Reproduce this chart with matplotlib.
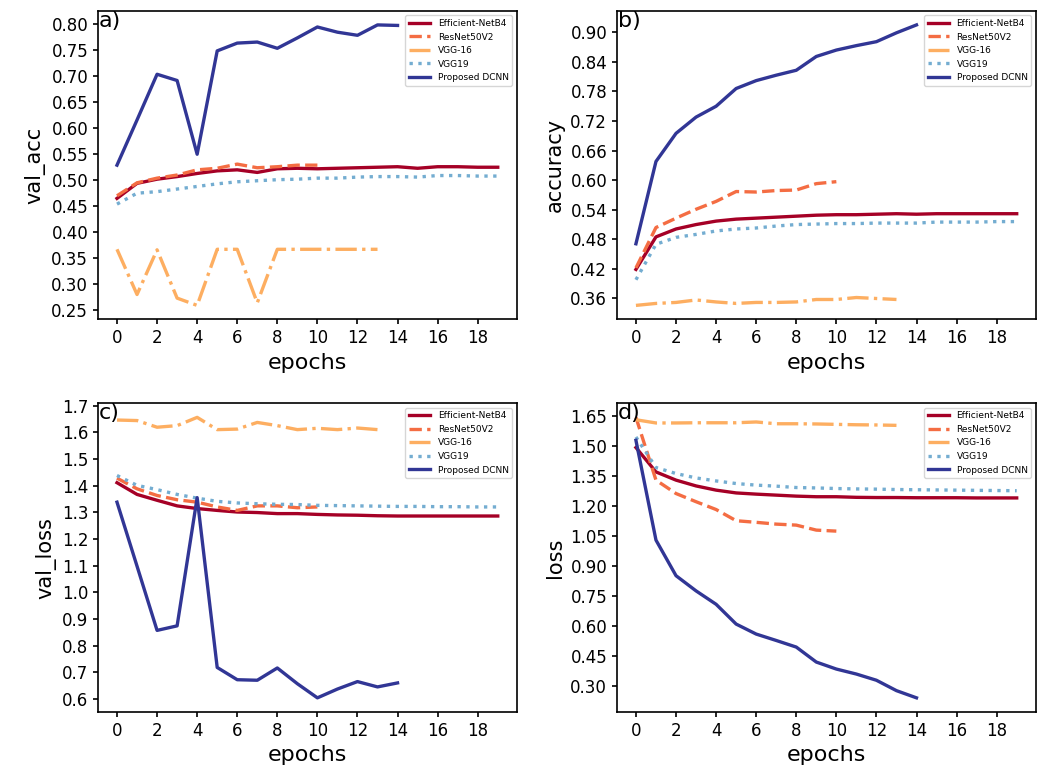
import matplotlib.pyplot as plt
import numpy as np

# model names and styles (RdYlBu colours)
models = ["Efficient-NetB4", "ResNet50V2", "VGG-16", "VGG19", "Proposed DCNN"]
colors = ["#a50026", "#f46d43", "#fdae61", "#74add1", "#313695"]
styles = ["-", "--", "-.", ":", "-"]

# a) validation accuracy
val_acc = [
    [0.464, 0.493, 0.501, 0.506, 0.512, 0.517, 0.519, 0.514, 0.521, 0.522,
     0.521, 0.522, 0.523, 0.524, 0.525, 0.522, 0.525, 0.525, 0.524, 0.524],
    [0.469, 0.494, 0.503, 0.509, 0.519, 0.522, 0.530, 0.523, 0.525, 0.528, 0.528],
    [0.366, 0.279, 0.365, 0.272, 0.258, 0.366, 0.366, 0.263, 0.366, 0.366,
     0.366, 0.366, 0.366, 0.366],
    [0.453, 0.474, 0.477, 0.482, 0.487, 0.492, 0.496, 0.498, 0.500, 0.501,
     0.503, 0.503, 0.505, 0.506, 0.506, 0.505, 0.508, 0.508, 0.507, 0.507],
    [0.528, 0.615, 0.703, 0.691, 0.549, 0.748, 0.763, 0.765, 0.753, 0.773,
     0.794, 0.784, 0.778, 0.798, 0.797],
]

# b) training accuracy
accuracy = [
    [0.419, 0.485, 0.501, 0.510, 0.517, 0.521, 0.523, 0.525, 0.527, 0.529,
     0.530, 0.530, 0.531, 0.532, 0.531, 0.532, 0.532, 0.532, 0.532, 0.532],
    [0.422, 0.504, 0.523, 0.541, 0.557, 0.577, 0.576, 0.579, 0.580, 0.593, 0.597],
    [0.346, 0.350, 0.352, 0.357, 0.353, 0.350, 0.352, 0.352, 0.353, 0.358,
     0.358, 0.362, 0.360, 0.358],
    [0.398, 0.470, 0.484, 0.490, 0.497, 0.501, 0.503, 0.507, 0.510, 0.511,
     0.512, 0.512, 0.513, 0.513, 0.513, 0.515, 0.515, 0.515, 0.516, 0.516],
    [0.471, 0.638, 0.695, 0.728, 0.750, 0.786, 0.802, 0.813, 0.823, 0.851,
     0.864, 0.873, 0.881, 0.899, 0.915],
]

# c) validation loss
val_loss = [
    [1.411, 1.367, 1.345, 1.324, 1.314, 1.307, 1.301, 1.299, 1.295, 1.295,
     1.292, 1.290, 1.289, 1.287, 1.286, 1.286, 1.286, 1.286, 1.286, 1.286],
    [1.428, 1.388, 1.363, 1.347, 1.338, 1.320, 1.307, 1.324, 1.324, 1.317, 1.320],
    [1.646, 1.644, 1.619, 1.625, 1.656, 1.610, 1.612, 1.637, 1.625, 1.610,
     1.615, 1.610, 1.616, 1.610],
    [1.438, 1.401, 1.385, 1.367, 1.353, 1.341, 1.335, 1.332, 1.330, 1.329,
     1.326, 1.325, 1.324, 1.323, 1.322, 1.322, 1.321, 1.321, 1.320, 1.320],
    [1.338, 1.098, 0.857, 0.874, 1.355, 0.718, 0.672, 0.670, 0.716, 0.657,
     0.604, 0.637, 0.665, 0.645, 0.660],
]

# d) training loss
loss = [
    [1.494, 1.372, 1.331, 1.302, 1.281, 1.267, 1.261, 1.256, 1.251, 1.248,
     1.248, 1.245, 1.244, 1.244, 1.243, 1.243, 1.243, 1.242, 1.242, 1.242],
    [1.645, 1.331, 1.264, 1.223, 1.184, 1.128, 1.120, 1.111, 1.106, 1.081, 1.076],
    [1.633, 1.617, 1.617, 1.618, 1.618, 1.618, 1.622, 1.613, 1.613, 1.612,
     1.610, 1.608, 1.607, 1.605],
    [1.547, 1.394, 1.364, 1.342, 1.327, 1.314, 1.306, 1.301, 1.294, 1.292,
     1.289, 1.287, 1.286, 1.284, 1.283, 1.282, 1.281, 1.280, 1.279, 1.278],
    [1.530, 1.031, 0.853, 0.777, 0.710, 0.611, 0.561, 0.529, 0.496, 0.421,
     0.386, 0.361, 0.330, 0.278, 0.242],
]

panels = [("a)", "val_acc", val_acc, np.arange(0.25, 0.801, 0.05), "%.2f"),
          ("b)", "accuracy", accuracy, np.arange(0.36, 0.901, 0.06), "%.2f"),
          ("c)", "val_loss", val_loss, np.arange(0.6, 1.701, 0.1), "%.1f"),
          ("d)", "loss", loss, np.arange(0.30, 1.651, 0.15), "%.2f")]

plt.rcParams['axes.linewidth'] = 1.2
plt.rcParams['xtick.major.width'] = 1.2
plt.rcParams['ytick.major.width'] = 1.2

fig, axes = plt.subplots(2, 2, figsize=(10.42, 7.78), dpi=100)
fig.subplots_adjust(left=0.094, right=0.994, top=0.986, bottom=0.085,
                    wspace=0.239, hspace=0.272)

for ax, (tag, name, data, yt, fmt) in zip(axes.flat, panels):
    for i, m in enumerate(models):
        ax.plot(np.arange(len(data[i])), data[i], styles[i], color=colors[i],
                lw=2.4, label=m)
    ax.set_xticks(np.arange(0, 19, 2))
    ax.set_yticks(yt)
    ax.set_yticklabels([fmt % v for v in yt])
    ax.tick_params(labelsize=12)
    ax.set_xlabel("epochs", fontsize=16)
    ax.set_ylabel(name, fontsize=15)
    ax.text(0.002, 1.0, tag, transform=ax.transAxes, va="top", ha="left",
            fontsize=16)
    ax.legend(loc="upper right", fontsize=6.5, handlelength=2.4)

fig.savefig("out.png")
